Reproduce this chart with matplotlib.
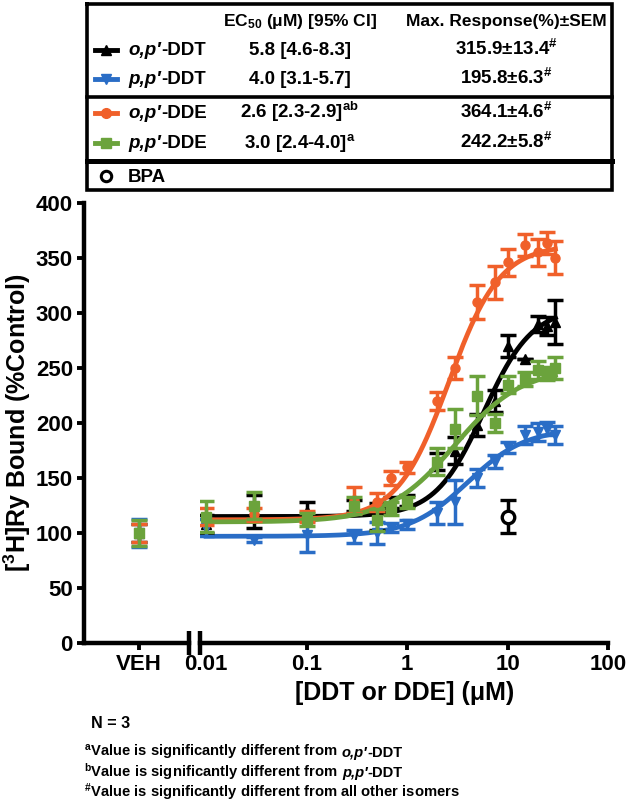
import numpy as np
import matplotlib.pyplot as plt
from matplotlib.lines import Line2D
from matplotlib import font_manager

plt.rcParams['font.family'] = ['Liberation Sans', 'DejaVu Sans']
plt.rcParams['font.weight'] = 'bold'
plt.rcParams['mathtext.fontset'] = 'custom'
plt.rcParams['mathtext.rm'] = 'Liberation Sans:bold'
plt.rcParams['mathtext.bf'] = 'Liberation Sans:bold'
plt.rcParams['mathtext.it'] = 'Liberation Sans:italic:bold'

# concentrations (uM)
conc = [0.01, 0.03, 0.1, 0.3, 0.5, 0.7, 1, 2, 3, 5, 7.5, 10, 15, 20, 25, 30]

op_ddt = [108, 120, 120, 125, 115, 128, 130, 165, 175, 198, 220, 270, 258, 290, 288, 292]
op_ddt_sem = [8, 15, 8, 5, 12, 5, 5, 8, 12, 10, 10, 10, 0, 7, 8, 20]
pp_ddt = [105, 94, 98, 97, 100, 105, 108, 118, 128, 150, 165, 178, 189, 192, 195, 189]
pp_ddt_sem = [8, 2, 15, 6, 10, 4, 4, 10, 20, 8, 6, 5, 8, 8, 6, 8]
op_dde = [115, 117, 115, 130, 128, 150, 160, 220, 250, 310, 328, 346, 362, 355, 364, 350]
op_dde_sem = [8, 6, 5, 12, 8, 6, 5, 8, 10, 15, 15, 12, 10, 12, 10, 15]
pp_dde = [115, 125, 112, 125, 112, 122, 128, 165, 195, 225, 200, 235, 240, 248, 245, 250]
pp_dde_sem = [14, 12, 6, 8, 10, 6, 5, 12, 18, 18, 8, 8, 6, 8, 6, 10]

# vehicle
veh_mean = [100, 100, 100, 100]
veh_sem = [8, 13, 8, 12]

# BPA single point
bpa_conc = [10]
bpa_mean = [115]
bpa_sem = [15]

# curve fit parameters: bottom, top, EC50, hill
fit_bottom = [115, 97, 112, 110]
fit_top = [305, 195, 362, 250]
fit_ec50 = [5.8, 4.0, 2.6, 3.0]
fit_hill = [1.8, 1.5, 1.7, 1.3]

names = ['o,p′', 'p,p′', 'o,p′', 'p,p′']
suffix = ['-DDT', '-DDT', '-DDE', '-DDE']
ec50_txt = ['5.8 [4.6-8.3]', '4.0 [3.1-5.7]', r'2.6 [2.3-2.9]$^{\mathrm{ab}}$', r'3.0 [2.4-4.0]$^{\mathrm{a}}$']
maxresp_txt = [r'315.9±13.4$^{\#}$', r'195.8±6.3$^{\#}$', r'364.1±4.6$^{\#}$', r'242.2±5.8$^{\#}$']

colors = ['#000000', '#2A6DC6', '#F0602A', '#6BA33C']
markers = ['^', 'v', 'o', 's']
means = [op_ddt, pp_ddt, op_dde, pp_dde]
sems = [op_ddt_sem, pp_ddt_sem, op_dde_sem, pp_dde_sem]

# narrow font for the footnotes if it is there
try:
    font_manager.findfont(font_manager.FontProperties(family='Liberation Sans Narrow', weight='bold'),
                          fallback_to_default=False)
    note_family, note_size = ['Liberation Sans Narrow', 'Liberation Sans'], 12.5
except Exception:
    note_family, note_size = ['Liberation Sans', 'DejaVu Sans'], 10.6

W, H = 633, 808
fig = plt.figure(figsize=(W / 100, H / 100), dpi=100)


def fx(px):
    return px / W


def fy(py):
    return (H - py) / H


ax_bottom = fy(643)
ax_h = fy(203) - fy(643)
ax1 = fig.add_axes([fx(84), ax_bottom, fx(189) - fx(84), ax_h])
ax2 = fig.add_axes([fx(200), ax_bottom, fx(608) - fx(200), ax_h])

LW = 3.2
for ax in (ax1, ax2):
    for s in ['top', 'right']:
        ax.spines[s].set_visible(False)
    ax.spines['bottom'].set_linewidth(LW)
    ax.spines['left'].set_linewidth(LW)
    ax.set_ylim(0, 400)
    ax.tick_params(width=2.8, length=5, labelsize=16, pad=3)
    ax.set_facecolor('none')

ax2.spines['left'].set_visible(False)
ax2.tick_params(axis='y', left=False, labelleft=False)
ax1.set_yticks(np.arange(0, 401, 50))
ax1.set_xlim(0, 1)
ax1.set_xticks([0.52])
ax1.set_xticklabels(['VEH'])

ax2.set_xscale('log')
ax2.set_xlim(10 ** -2.06, 100)
ax2.set_xticks([0.01, 0.1, 1, 10, 100])
ax2.set_xticklabels(['0.01', '0.1', '1', '10', '100'])
ax2.xaxis.set_minor_locator(plt.NullLocator())
ax2.get_xticklines()[0].set_visible(False)
ax2.get_xticklines()[1].set_visible(False)

for lbl in ax1.get_xticklabels() + ax1.get_yticklabels() + ax2.get_xticklabels():
    lbl.set_fontweight('bold')

# axis break bars
for ax, xpos in ((ax1, 1.0), (ax2, 0.0)):
    ax.plot([xpos, xpos], [-0.028, 0.028], transform=ax.transAxes, color='black',
            lw=LW, clip_on=False, solid_capstyle='butt')

# fitted curves
xfit = np.logspace(-2, np.log10(30), 300)
order = [3, 1, 2, 0]
for i in order:
    yfit = fit_bottom[i] + (fit_top[i] - fit_bottom[i]) / (1 + (fit_ec50[i] / xfit) ** fit_hill[i])
    ax2.plot(xfit, yfit, color=colors[i], lw=3.4, zorder=2 + i)
    ax2.errorbar(conc, means[i], yerr=sems[i], fmt=markers[i], color=colors[i], ms=6.5,
                 elinewidth=2.5, capsize=5.5, capthick=2.5, zorder=3 + i)
    ax1.errorbar([0.52], [veh_mean[i]], yerr=[veh_sem[i]], fmt=markers[i], color=colors[i], ms=6.5,
                 elinewidth=2.5, capsize=5.5, capthick=2.5, zorder=3 + i)

ax2.errorbar(bpa_conc, bpa_mean, yerr=bpa_sem, fmt='o', mfc='white', mec='black', mew=2.4,
             color='black', ms=9, elinewidth=2.5, capsize=5.5, capthick=2.5, zorder=10)

ax1.set_ylabel(r'[$^{\mathrm{3}}$H]Ry Bound (%Control)', fontsize=18, fontweight='bold', labelpad=2)
fig.text(fx(405), fy(693), '[DDT or DDE] (μM)', fontsize=18, fontweight='bold', ha='center', va='center')

# ---- legend table ----
renderer = fig.canvas.get_renderer()


def rich(px, py, pieces, size, ha='left', family=None):
    """pieces: list of (text, style). drawn side by side on one baseline."""
    arts = []
    widths = []
    for txt, style in pieces:
        t = fig.text(0, fy(py), txt, fontsize=size, fontweight='bold', fontstyle=style,
                     va='baseline', ha='left')
        if family is not None:
            t.set_family(family)
        arts.append(t)
        n_sp = len(txt) - len(txt.rstrip(' '))
        widths.append(t.get_window_extent(renderer).width + n_sp * 0.22 * size * 100 / 72)
    total = sum(widths)
    x0 = px if ha == 'left' else px - total / 2
    for a, w in zip(arts, widths):
        a.set_x(fx(x0))
        x0 += w
    return arts


tl, tr, tt, tb = 87, 612, 4, 190
lw_box = 2.6
fig.add_artist(Line2D([fx(tl), fx(tr), fx(tr), fx(tl), fx(tl)],
                      [fy(tt), fy(tt), fy(tb), fy(tb), fy(tt)], color='black', lw=lw_box,
                      solid_joinstyle='miter'))
fig.add_artist(Line2D([fx(tl), fx(tr)], [fy(97), fy(97)], color='black', lw=lw_box))
fig.add_artist(Line2D([fx(tl), fx(tr)], [fy(161), fy(161)], color='black', lw=3.6))

col1, col2 = 300, 506
rich(col1, 26, [(r'EC$_{\mathrm{50}}$ (μM) [95% CI]', 'normal')], 12.5, ha='center')
rich(col2, 26, [('Max. Response(%)±SEM', 'normal')], 12.5, ha='center')

row_y = [55, 84, 118, 148]
for i in range(4):
    y = row_y[i]
    fig.add_artist(Line2D([fx(95), fx(117)], [fy(y - 5), fy(y - 5)], color=colors[i], lw=3.5))
    fig.add_artist(Line2D([fx(106)], [fy(y - 5)], color=colors[i], marker=markers[i], ms=7))
    rich(128, y, [(names[i], 'italic'), (suffix[i], 'normal')], 13.5)
    rich(col1, y, [(ec50_txt[i], 'normal')], 13.5, ha='center')
    rich(col2, y, [(maxresp_txt[i], 'normal')], 13.5, ha='center')

fig.add_artist(Line2D([fx(106)], [fy(176)], color='black', marker='o', mfc='white', mew=2.2, ms=7.5))
rich(128, 182, [('BPA', 'normal')], 13.5)

# ---- footnotes ----
rich(91, 728, [('N = 3', 'normal')], note_size + 1, family=note_family)
rich(84, 757, [(r'$^{\mathrm{a}}$Value is significantly different from ', 'normal'), ('o,p′', 'italic'),
               ('-DDT', 'normal')], note_size, family=note_family)
rich(84, 777, [(r'$^{\mathrm{b}}$Value is significantly different from ', 'normal'), ('p,p′', 'italic'),
               ('-DDT', 'normal')], note_size, family=note_family)
rich(84, 797, [(r'$^{\#}$Value is significantly different from all other isomers', 'normal')],
     note_size, family=note_family)

fig.savefig('out.png', dpi=100)
